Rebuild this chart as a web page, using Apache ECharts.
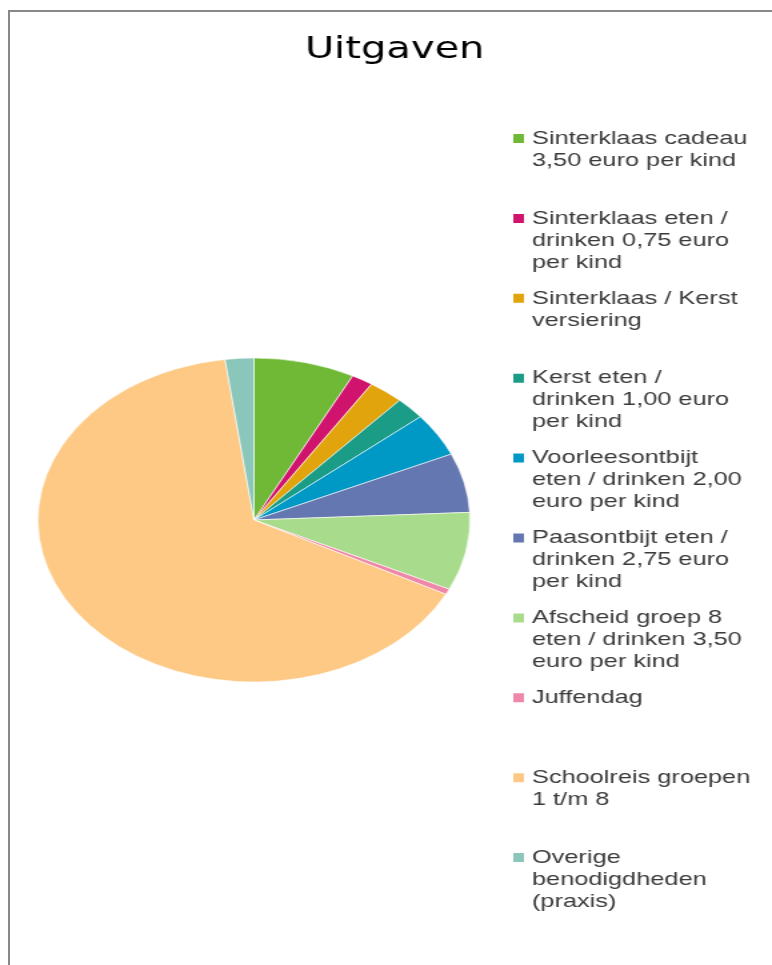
<!DOCTYPE html>
<html>
<head>
<meta charset="utf-8">
<script src="https://cdn.jsdelivr.net/npm/echarts@6/dist/echarts.min.js"></script>
<style>
  html, body { margin: 0; padding: 0; background: #fff; }
  #frame {
    position: absolute; left: 8px; top: 10px; width: 764px; height: 955px;
    border-left: 2px solid #888; border-top: 2px solid #888;
    z-index: 2; pointer-events: none;
  }
  /* the original picture is stretched sideways, so the chart is drawn narrow and scaled */
  #chart {
    position: absolute; left: 0; top: 0; width: 579px; height: 965px;
    transform: scaleX(1.33333); transform-origin: 0 0;
  }
</style>
</head>
<body>
<div id="frame"></div>
<div id="chart"></div>
<script>
// data
const categories = [
  'Sinterklaas cadeau 3,50 euro per kind',
  'Sinterklaas eten / drinken 0,75 euro per kind',
  'Sinterklaas / Kerst versiering',
  'Kerst eten / drinken 1,00 euro per kind',
  'Voorleesontbijt eten / drinken 2,00 euro per kind',
  'Paasontbijt eten / drinken 2,75 euro per kind',
  'Afscheid groep 8 eten / drinken 3,50 euro per kind',
  'Juffendag',
  'Schoolreis groepen 1 t/m 8',
  'Overige benodigdheden (praxis)'
]
// legend text as it wraps in the picture
const legendLines = [
  ['Sinterklaas cadeau', '3,50 euro per kind'],
  ['Sinterklaas eten /', 'drinken 0,75 euro', 'per kind'],
  ['Sinterklaas / Kerst', 'versiering'],
  ['Kerst eten /', 'drinken 1,00 euro', 'per kind'],
  ['Voorleesontbijt', 'eten / drinken 2,00', 'euro per kind'],
  ['Paasontbijt eten /', 'drinken 2,75 euro', 'per kind'],
  ['Afscheid groep 8', 'eten / drinken 3,50', 'euro per kind'],
  ['Juffendag'],
  ['Schoolreis groepen', '1 t/m 8'],
  ['Overige', 'benodigdheden', '(praxis)']
]
const values = [272, 58, 94, 80, 156, 213, 280, 20, 2350, 77]
const colors = ['#70b936', '#d0136c', '#e2a40c', '#1a9c86', '#0099c5',
  '#6577b0', '#a8dc8c', '#ef87a9', '#fdc985', '#8ac6ba']

const chart = echarts.init(document.getElementById('chart'))

// one legend per entry so every entry sits in its own fixed slot
const lineH = 22
const legends = categories.map((name, i) => {
  const lines = legendLines[i]
  const firstLineY = 138.5 + i * 79.9
  return {
    orient: 'vertical',
    left: 383,
    top: firstLineY - (2 * lines.length - 1) * lineH / 2,
    padding: 0,
    itemWidth: 10,
    itemHeight: 11,
    icon: 'rect',
    selectedMode: false,
    data: [name],
    // blank lines in front keep the square level with the first line
    formatter: () => Array(lines.length - 1).fill('').concat(lines).join('\n'),
    textStyle: {
      fontFamily: 'Liberation Sans',
      fontSize: 19,
      lineHeight: lineH,
      color: '#3a3a3a'
    }
  }
})

chart.setOption({
  animation: false,
  color: colors,
  title: {
    text: 'Uitgaven',
    left: 291,
    top: 30,
    textAlign: 'center',
    textStyle: {
      fontFamily: 'DejaVu Sans',
      fontSize: 30,
      fontWeight: 'normal',
      color: '#000'
    }
  },
  legend: legends,
  series: [
    {
      name: 'Uitgaven',
      type: 'pie',
      center: [190.5, 520],
      radius: 162,
      startAngle: 90,
      clockwise: true,
      label: { show: false },
      labelLine: { show: false },
      itemStyle: { borderColor: '#fff', borderWidth: 0.6 },
      emphasis: { disabled: true },
      data: categories.map((name, i) => ({ name: name, value: values[i] }))
    }
  ]
})
</script>
</body>
</html>
